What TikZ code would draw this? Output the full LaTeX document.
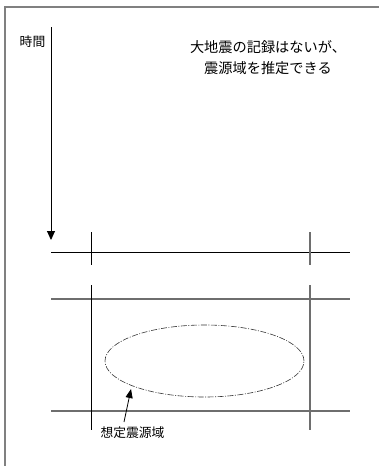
\documentclass[tikz,border=0pt]{standalone}
\usepackage{fontspec}
\setmainfont{Noto Sans CJK JP}
\usetikzlibrary{arrows.meta}
\definecolor{framegray}{RGB}{128,128,128}
\definecolor{linegray}{RGB}{110,110,110}
\tikzset{
  frameline/.style={draw=framegray,line width=1.4pt},
  blackline/.style={draw=black,line width=0.9pt},
  grayline/.style={draw=linegray,line width=1.3pt},
  dashdot/.style={draw=black!80,line width=0.6pt,dash pattern=on 6pt off 1.5pt on 1pt off 1.5pt},
  lbl/.style={inner sep=0pt,font=\fontsize{12.8pt}{14pt}\selectfont},
  biglbl/.style={inner sep=0pt,align=center,font=\fontsize{14.2pt}{21pt}\selectfont},
}
\begin{document}
\begin{tikzpicture}[x=1pt,y=-1pt]
\useasboundingbox (0,0) rectangle (379,466);
% frame
\coordinate (fbl) at (5,467);
\coordinate (ftl) at (5,7);
\coordinate (ftr) at (380,7);
\draw[frameline] (fbl) -- (ftl) -- (ftr);
% texts
\node[lbl] (time) at (32.5,42) {時間};
\node[biglbl] (note) at (268,57.5) {大地震の記録はないが、\\震源域を推定できる};
% time axis
\coordinate (t0) at (51,27);
\coordinate (t1) at (51,240);
\draw[blackline,-{Triangle[width=8pt,length=9pt]}] (t0) -- (t1);
% horizontal lines
\coordinate (h1a) at (51,252); \coordinate (h1b) at (350,252);
\coordinate (h2a) at (51,299); \coordinate (h2b) at (350,299);
\coordinate (h3a) at (51,411); \coordinate (h3b) at (350,411);
\draw[blackline] (h1a) -- (h1b);
\draw[grayline] (h2a) -- (h2b);
\draw[grayline] (h3a) -- (h3b);
% vertical lines
\coordinate (v1a) at (91,232); \coordinate (v1b) at (91,265);
\coordinate (v2a) at (91,285); \coordinate (v2b) at (91,430);
\coordinate (v3a) at (310,232); \coordinate (v3b) at (310,265);
\coordinate (v4a) at (310,285); \coordinate (v4b) at (310,430);
\draw[blackline] (v1a) -- (v1b);
\draw[blackline] (v2a) -- (v2b);
\draw[grayline] (v3a) -- (v3b);
\draw[grayline] (v4a) -- (v4b);
% source region
\draw[dashdot] (204.5,361) ellipse [x radius=99.5pt, y radius=36pt];
\coordinate (tip) at (131,389);
\node[lbl] (src) at (132.5,433) {想定震源域};
\coordinate (tail) at (124,422);
\draw[blackline,line width=0.8pt,-{Triangle[width=7pt,length=9pt]}] (tail) -- (tip);
\end{tikzpicture}
\end{document}
